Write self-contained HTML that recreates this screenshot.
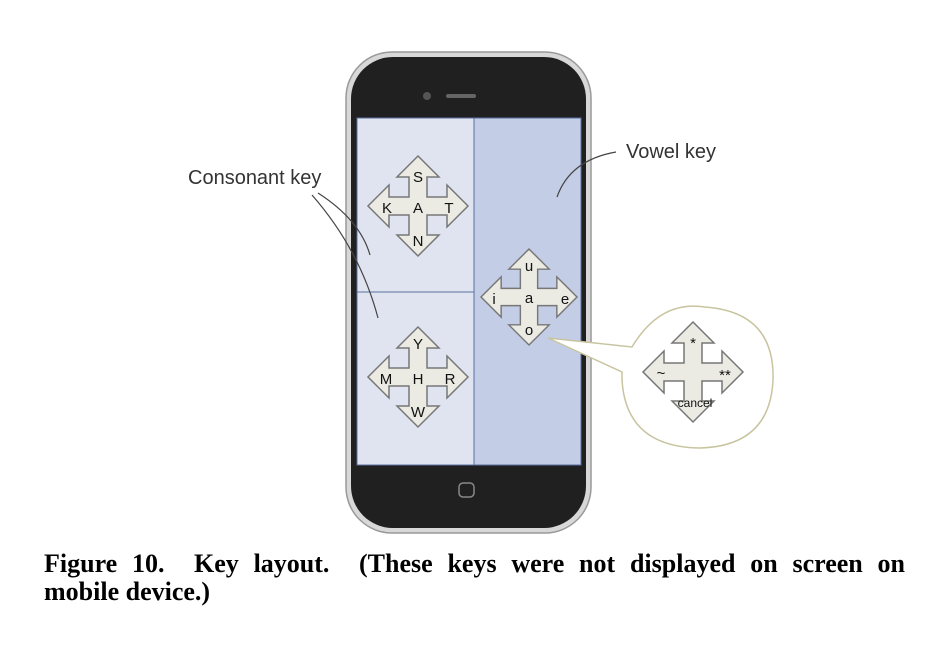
<!DOCTYPE html>
<html><head><meta charset="utf-8"><style>
body{margin:0;background:#fff;width:950px;height:650px;overflow:hidden;position:relative}
.cap{position:absolute;left:44px;width:861px;font-family:"Liberation Serif",serif;font-weight:bold;font-size:26px;line-height:28px;text-align:justify;text-align-last:justify;white-space:nowrap}
</style></head><body>
<svg width="950" height="650" style="position:absolute;left:0;top:0">
<defs>
<path id="key" d="M0,-50 L21,-29 L9,-29 L9,-9 L29,-9 L29,-21 L50,0 L29,21 L29,9 L9,9 L9,29 L21,29 L0,50 L-21,29 L-9,29 L-9,9 L-29,9 L-29,21 L-50,0 L-29,-21 L-29,-9 L-9,-9 L-9,-29 L-21,-29 Z" fill="#ebebe3" stroke="#777" stroke-width="1.5"/>
</defs>
<g>
<rect x="346" y="52" width="245" height="481" rx="46" fill="#d8d8d8" stroke="#999" stroke-width="1.5"/>
<rect x="351" y="57" width="235" height="471" rx="42" fill="#202020"/>
<circle cx="427" cy="96" r="4" fill="#555"/>
<rect x="446" y="94" width="30" height="4" rx="2" fill="#666"/>
<rect x="357" y="118" width="117" height="174" fill="#e0e4f1" stroke="#5a6fa0"/>
<rect x="357" y="292" width="117" height="173" fill="#e0e4f1" stroke="#5a6fa0"/>
<rect x="474" y="118" width="107" height="347" fill="#c3cde5" stroke="#5a6fa0"/>
<rect x="459" y="483" width="15" height="14" rx="4" fill="none" stroke="#888" stroke-width="1.5"/>
</g>
<g font-family="Liberation Sans, sans-serif" font-size="15" text-anchor="middle" fill="#111">
<g><use href="#key" x="418" y="206"/>
<text x="418" y="182">S</text><text x="387" y="213">K</text><text x="418" y="213">A</text><text x="449" y="213">T</text><text x="418" y="246">N</text></g>
<g><use href="#key" x="418" y="377"/>
<text x="418" y="349">Y</text><text x="386" y="384">M</text><text x="418" y="384">H</text><text x="450" y="384">R</text><text x="418" y="417">W</text></g>
<g><use href="#key" transform="translate(529,297) scale(0.96)"/>
<text x="529" y="271">u</text><text x="494" y="304">i</text><text x="529" y="303">a</text><text x="565" y="304">e</text><text x="529" y="335">o</text></g>
</g>
<g>
<path d="M548,338 L632,347 Q660,300 705,307 Q775,312 773,380 Q770,446 700,448 Q626,447 622,380 L622,372 Z" fill="#fff" stroke="#c8c4a0" stroke-width="1.5"/>
<use href="#key" x="693" y="372"/>
<g font-family="Liberation Sans, sans-serif" fill="#111" text-anchor="middle">
<text x="693" y="348" font-size="15">*</text><text x="661" y="378" font-size="15">~</text><text x="725" y="380" font-size="15">**</text><text x="695" y="407" font-size="12">cancel</text></g>
</g>
<g fill="none" stroke="#444" stroke-width="1.2">
<path d="M318,193 Q360,220 370,255"/>
<path d="M312,195 Q360,250 378,318"/>
<path d="M616,152 Q570,160 557,197"/>
</g>
<text x="188" y="184" font-family="Liberation Sans, sans-serif" font-size="20" fill="#333">Consonant key</text>
<text x="626" y="158" font-family="Liberation Sans, sans-serif" font-size="20" fill="#333">Vowel key</text>
</svg>
<div class="cap" style="top:550px">Figure 10.&nbsp; Key layout.&nbsp; (These keys were not displayed on screen on</div>
<div class="cap" style="top:578px;text-align-last:left">mobile device.)</div>
</body></html>
